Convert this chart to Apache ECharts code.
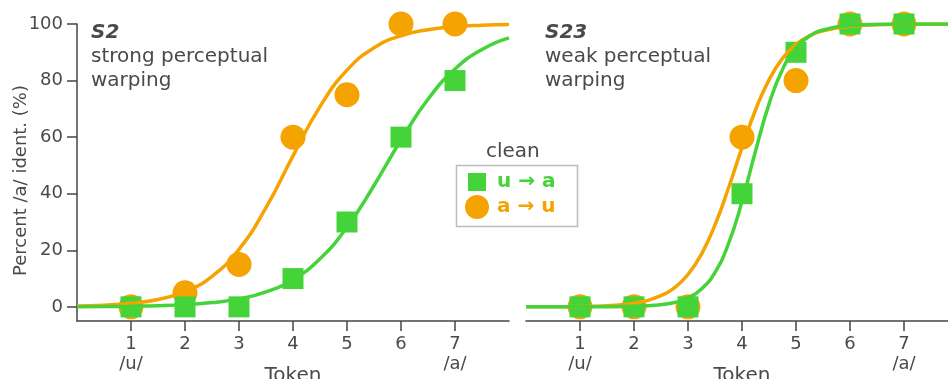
<!DOCTYPE html>
<html>
<head>
<meta charset="utf-8">
<script src="https://cdn.jsdelivr.net/npm/echarts@6/dist/echarts.min.js"></script>
<style>
  html, body { margin: 0; padding: 0; background: #fff; }
  #chart { width: 948px; height: 379px; }
</style>
</head>
<body>
<div id="chart"></div>
<script>
// Tokens on the /u/–/a/ continuum
const tokens = [1, 2, 3, 4, 5, 6, 7];
const tickValuesY = [0, 20, 40, 60, 80, 100];
const endLabels = { 1: '/u/', 7: '/a/' };

// Observed identification rates (% /a/)
const s2UtoA = [0, 0, 0, 10, 30, 60, 80];
const s2AtoU = [0, 5, 15, 60, 75, 100, 100];
const s23UtoA = [0, 0, 0, 40, 90, 100, 100];
const s23AtoU = [0, 0, 0, 60, 80, 100, 100];

// Fitted psychometric curves, sampled along the token axis
const fitXS2 = [0, 0.5, 1, 1.5, 2, 2.5, 3, 3.5, 4, 4.5, 5, 5.5, 6, 6.5, 7, 7.5, 8];
const s2UtoAFit = [0.06, 0.11, 0.22, 0.41, 0.79, 1.5, 2.83, 5.29, 9.65, 17.0, 28.17, 42.9, 59.0, 73.38, 84.07, 91.0, 95.09];
const s2AtoUFit = [0.28, 0.6, 1.26, 2.62, 5.39, 10.77, 20.34, 35.09, 53.37, 70.79, 83.68, 91.57, 95.83, 97.99, 99.04, 99.54, 99.78];

const fitXS23 = [0, 0.5, 1, 1.5, 2, 2.5, 2.75, 3, 3.25, 3.5, 3.75, 4, 4.25, 4.5, 4.75, 5, 5.25, 5.5, 6, 6.5, 7, 7.5, 8];
const s23UtoAFit = [0, 0, 0.01, 0.04, 0.18, 0.76, 1.56, 3.16, 6.32, 12.22, 22.32, 37.24, 55.06, 71.67, 83.93, 91.52, 95.7, 97.87, 99.49, 99.88, 99.97, 99.99, 100];
const s23AtoUFit = [0.01, 0.04, 0.13, 0.41, 1.28, 3.93, 6.78, 11.43, 18.66, 28.97, 42.02, 56.3, 69.6, 80.26, 87.84, 92.78, 95.8, 97.59, 99.23, 99.75, 99.92, 99.98, 99.99];

const GREEN = '#44d43a';
const ORANGE = '#f5a300';
const INK = '#4a4a4a';
const AXIS = '#444';
const FONT = '"DejaVu Sans", sans-serif';

const pairs = (xs, ys) => xs.map((x, i) => [x, ys[i]]);

function xAxisFor(gridIndex) {
  return {
    type: 'value', gridIndex, min: 0, max: 8,
    name: 'Token', nameLocation: 'middle', nameGap: 45, nameMoveOverlap: false,
    nameTextStyle: { color: INK, fontSize: 20, fontFamily: FONT },
    axisLine: { onZero: false, lineStyle: { color: AXIS, width: 1.5 } },
    axisTick: { length: 10, lineStyle: { color: AXIS, width: 1.5 }, customValues: tokens },
    axisLabel: {
      color: INK, fontSize: 18, fontFamily: FONT, margin: 13,
      customValues: tokens,
      formatter: v => endLabels[v] ? '{n|' + v + '}\n{s|' + endLabels[v] + '}' : '{n|' + v + '}',
      rich: {
        n: { fontSize: 18, fontFamily: FONT, color: INK, lineHeight: 20 },
        s: { fontSize: 18, fontFamily: FONT, color: INK, lineHeight: 20 }
      }
    },
    splitLine: { show: false }
  };
}

function yAxisFor(gridIndex, visible) {
  return {
    type: 'value', gridIndex, min: -5, max: 100, show: visible,
    name: visible ? 'Percent /a/ ident. (%)' : '',
    nameLocation: 'middle', nameGap: 47, nameMoveOverlap: false,
    nameTextStyle: { color: INK, fontSize: 18, fontFamily: FONT, padding: [0, 16, 0, 0] },
    axisLine: { show: true, onZero: false, lineStyle: { color: AXIS, width: 1.5 } },
    axisTick: { show: true, length: 10, lineStyle: { color: AXIS, width: 1.5 }, customValues: tickValuesY },
    axisLabel: { color: INK, fontSize: 18, fontFamily: FONT, margin: 14, customValues: tickValuesY },
    splitLine: { show: false }
  };
}

function curve(name, xi, xs, ys, color) {
  return {
    name, type: 'line', xAxisIndex: xi, yAxisIndex: xi,
    data: pairs(xs, ys), smooth: 0.5,
    showSymbol: false, symbol: 'none',
    lineStyle: { color, width: 3.5 }, silent: true
  };
}

function points(name, xi, ys, shape, size, color) {
  return {
    name, type: 'scatter', xAxisIndex: xi, yAxisIndex: xi,
    data: pairs(tokens, ys), symbol: shape, symbolSize: size,
    itemStyle: { color, opacity: 1 }
  };
}

function panelTitle(left, head, line1, line2) {
  return {
    left, top: 16,
    text: '{h|' + head + '}\n{n|' + line1 + '}\n{n|' + line2 + '}',
    textStyle: {
      fontWeight: 'normal',
      rich: {
        h: { fontSize: 20, fontWeight: 'bold', fontStyle: 'italic', color: INK, fontFamily: FONT, lineHeight: 24 },
        n: { fontSize: 20, fontWeight: 'normal', color: INK, fontFamily: FONT, lineHeight: 24 }
      }
    }
  };
}

const chart = echarts.init(document.getElementById('chart'), null, { renderer: 'canvas' });
chart.setOption({
  animation: false,
  backgroundColor: '#fff',
  title: [
    panelTitle(86, 'S2', 'strong perceptual', 'warping'),
    panelTitle(540, 'S23', 'weak perceptual', 'warping'),
    {
      text: 'clean', left: 481, top: 137,
      textStyle: { fontSize: 20, fontWeight: 'normal', color: INK, fontFamily: FONT }
    }
  ],
  grid: [
    { left: 77, top: 24, width: 432, height: 297, outerBoundsMode: 'none', containLabel: false },
    { left: 526, top: 24, width: 432, height: 297, outerBoundsMode: 'none', containLabel: false }
  ],
  xAxis: [xAxisFor(0), xAxisFor(1)],
  yAxis: [yAxisFor(0, true), yAxisFor(1, false)],
  legend: [
    {
      data: [{ name: 'u → a', textStyle: { color: GREEN } }],
      left: 468, top: 172, padding: 0, itemWidth: 18, itemHeight: 18,
      textStyle: { fontSize: 20, fontWeight: 'bold', fontFamily: FONT, padding: [0, 0, 0, 6] },
      selectedMode: false
    },
    {
      data: [{ name: 'a → u', textStyle: { color: ORANGE } }],
      left: 465, top: 195, padding: 0, itemWidth: 24, itemHeight: 24,
      textStyle: { fontSize: 20, fontWeight: 'bold', fontFamily: FONT, padding: [0, 0, 0, 3] },
      selectedMode: false
    }
  ],
  graphic: [
    {
      type: 'rect', left: 454, top: 163, z: 0,
      shape: { width: 121, height: 61 },
      style: { fill: 'none', stroke: '#bdbdbd', lineWidth: 1.5 }
    }
  ],
  series: [
    curve('S2 a → u fit', 0, fitXS2, s2AtoUFit, ORANGE),
    curve('S2 u → a fit', 0, fitXS2, s2UtoAFit, GREEN),
    points('a → u', 0, s2AtoU, 'circle', 25, ORANGE),
    points('u → a', 0, s2UtoA, 'rect', 21, GREEN),
    curve('S23 a → u fit', 1, fitXS23, s23AtoUFit, ORANGE),
    curve('S23 u → a fit', 1, fitXS23, s23UtoAFit, GREEN),
    points('a → u', 1, s23AtoU, 'circle', 25, ORANGE),
    points('u → a', 1, s23UtoA, 'rect', 21, GREEN)
  ]
});
</script>
</body>
</html>
